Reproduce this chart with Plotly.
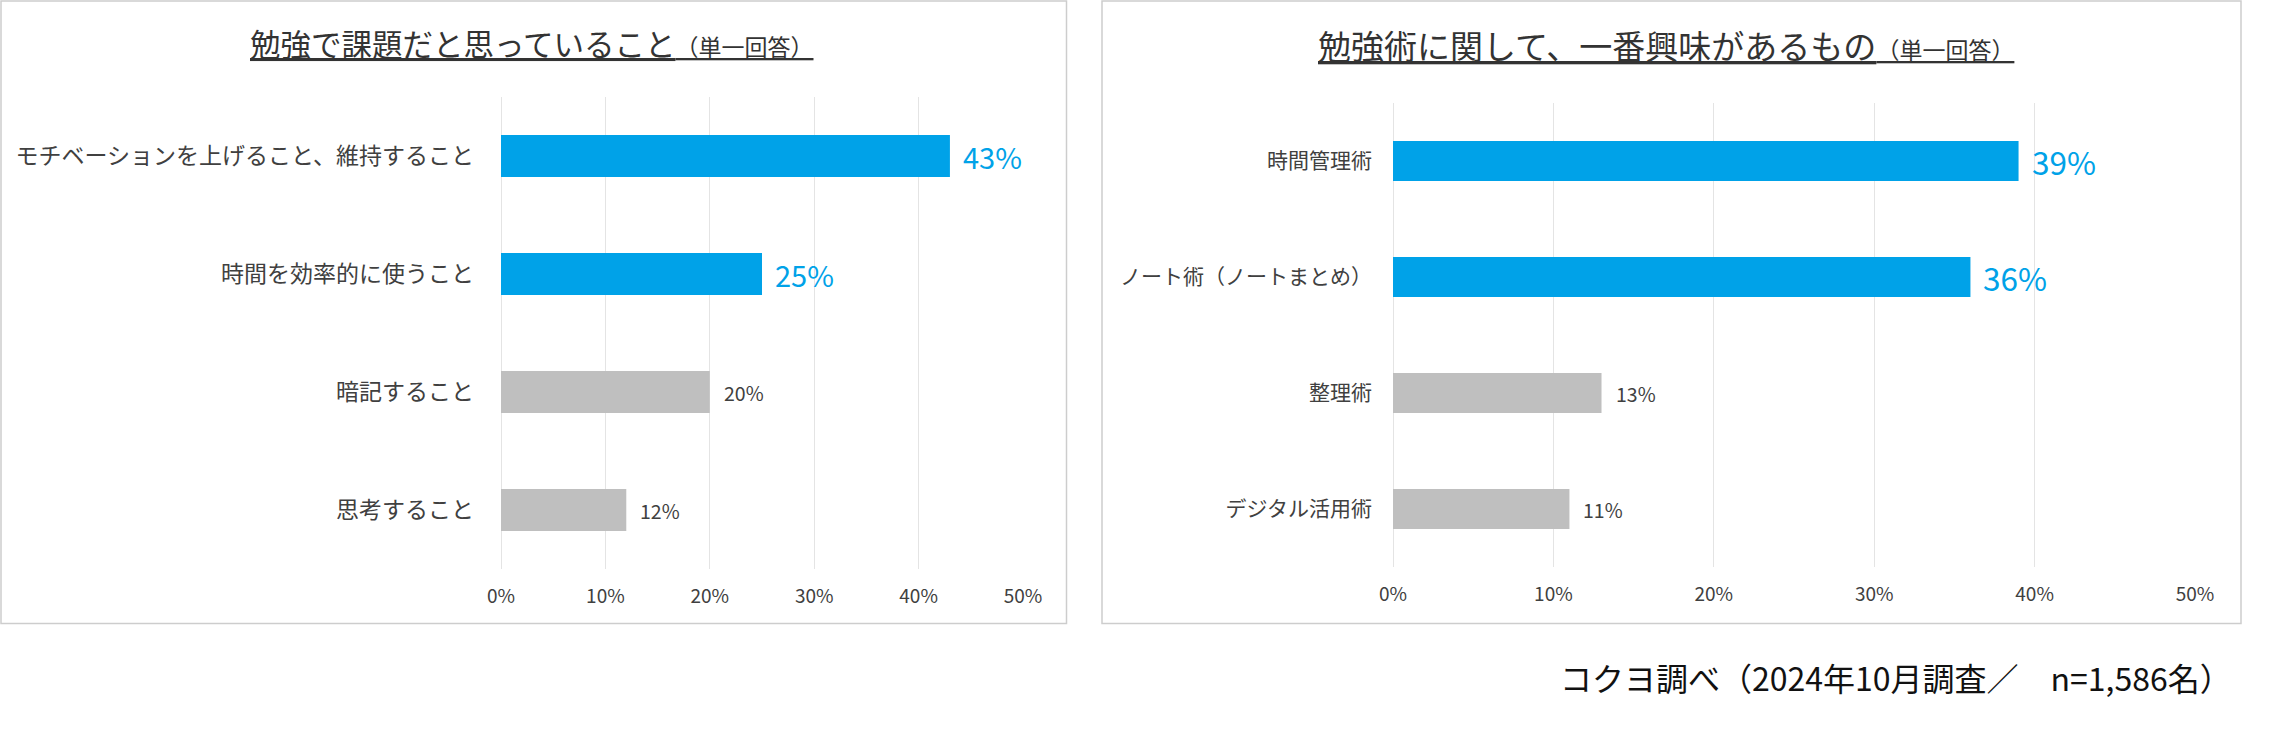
import plotly.graph_objects as go

W, H = 2276, 744
FONT = "Noto Sans CJK JP"

# ---- data ----
left_title = "勉強で課題だと思っていること"
left_sub = "（単一回答）"
left_categories = ["モチベーションを上げること、維持すること", "時間を効率的に使うこと", "暗記すること", "思考すること"]
left_values = [0.43, 0.25, 0.20, 0.12]

right_title = "勉強術に関して、一番興味があるもの"
right_sub = "（単一回答）"
right_categories = ["時間管理術", "ノート術（ノートまとめ）", "整理術", "デジタル活用術"]
right_values = [0.39, 0.36, 0.13, 0.11]

x_ticks = [0, 0.1, 0.2, 0.3, 0.4, 0.5]
x_tick_labels = ["0%", "10%", "20%", "30%", "40%", "50%"]
highlight_count = 2
footer_text = "コクヨ調べ（2024年10月調査／　n=1,586名）"

# ---- styles ----
BLUE = "#00A2E8"
GRAY = "#BFBFBF"
TXT = "#404040"
GRID = "#E4E4E4"
BORDER = "#CDCDCD"


def px(x):
    return x / W


def py(y):
    return 1 - y / H


fig = go.Figure()

panels = [
    dict(cats=left_categories, vals=left_values, xa="x", ya="y", width=0.355,
         big=29, small=19.5),
    dict(cats=right_categories, vals=right_values, xa="x2", ya="y2", width=0.345,
         big=31.5, small=19.5),
]

annotations = []
for p in panels:
    colors = [BLUE if i < highlight_count else GRAY for i in range(len(p["vals"]))]
    fig.add_trace(go.Bar(
        x=p["vals"], y=p["cats"], orientation="h",
        marker=dict(color=colors, line=dict(width=0)),
        width=p["width"], xaxis=p["xa"], yaxis=p["ya"],
        hoverinfo="skip", showlegend=False,
    ))
    for i, (c, v) in enumerate(zip(p["cats"], p["vals"])):
        hl = i < highlight_count
        annotations.append(dict(
            x=v, y=c, xref=p["xa"], yref=p["ya"],
            text=f"{round(v * 100)}%", showarrow=False,
            xanchor="left", yanchor="middle", xshift=11 if hl else 12,
            font=dict(family=FONT, size=p["big"] if hl else p["small"],
                      color=BLUE if hl else TXT),
        ))

# titles
annotations.append(dict(
    x=px(248), y=py(43), xref="paper", yref="paper", xanchor="left", yanchor="middle",
    showarrow=False,
    text=f"{left_title}<span style='font-size:23px'>{left_sub}</span>",
    font=dict(family=FONT, size=30.5, color="#333333", lineposition="under"),
))
annotations.append(dict(
    x=px(1316), y=py(45), xref="paper", yref="paper", xanchor="left", yanchor="middle",
    showarrow=False,
    text=f"{right_title}<span style='font-size:23px'>{right_sub}</span>",
    font=dict(family=FONT, size=33, color="#333333", lineposition="under"),
))
# footer
annotations.append(dict(
    x=px(1558), y=py(677), xref="paper", yref="paper", xanchor="left", yanchor="middle",
    showarrow=False, text=footer_text,
    font=dict(family=FONT, size=32, color="#111111"),
))

shapes = [
    dict(type="rect", xref="paper", yref="paper", x0=px(1), x1=px(1066.5), y0=py(623.5), y1=py(1),
         line=dict(color=BORDER, width=1.5), fillcolor="rgba(0,0,0,0)", layer="below"),
    dict(type="rect", xref="paper", yref="paper", x0=px(1102), x1=px(2241), y0=py(623.5), y1=py(1),
         line=dict(color=BORDER, width=1.5), fillcolor="rgba(0,0,0,0)", layer="below"),
]

xcommon = dict(range=[0, 0.5], tickvals=x_ticks, ticktext=x_tick_labels, showgrid=True,
               gridcolor=GRID, gridwidth=1.3, zeroline=True, zerolinecolor=GRID, zerolinewidth=1.3,
               showline=False, ticks="", ticklabelstandoff=14, fixedrange=True, automargin=False,
               tickfont=dict(family=FONT, size=19, color=TXT))
ycommon = dict(autorange="reversed", showgrid=False, zeroline=False, showline=False, ticks="",
               fixedrange=True, automargin=False)

fig.update_layout(
    template="none",
    width=W, height=H, margin=dict(l=0, r=0, t=0, b=0, pad=0, autoexpand=False),
    paper_bgcolor="white", plot_bgcolor="white",
    font=dict(family=FONT, color=TXT),
    bargap=0.65,
    xaxis=dict(domain=[px(501), px(1023)], anchor="y", **xcommon),
    yaxis=dict(domain=[py(569), py(97)], anchor="x", categoryorder="array",
               categoryarray=left_categories, ticklabelstandoff=26,
               tickfont=dict(family=FONT, size=23, color=TXT), **ycommon),
    xaxis2=dict(domain=[px(1393), px(2195)], anchor="y2", **xcommon),
    yaxis2=dict(domain=[py(567), py(103)], anchor="x2", categoryorder="array",
                categoryarray=right_categories, ticklabelstandoff=20,
                tickfont=dict(family=FONT, size=21, color=TXT), **ycommon),
    annotations=annotations,
    shapes=shapes,
)

fig.write_html("out.html", config={"displayModeBar": False},
               post_script="document.body.style.margin='0';document.body.style.overflow='hidden';")
